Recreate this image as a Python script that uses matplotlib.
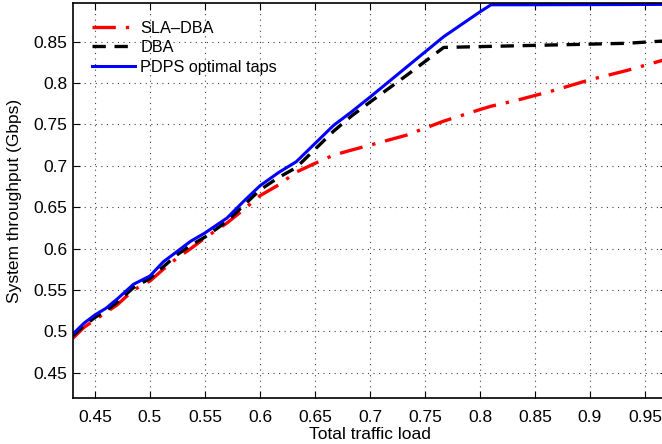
import matplotlib
matplotlib.use("Agg")
import matplotlib.pyplot as plt

plt.rcParams['font.family'] = ['Liberation Sans', 'DejaVu Sans']

# Offered load (shared x grid)
load = [0.43, 0.44, 0.45, 0.46, 0.47, 0.485, 0.50, 0.512, 0.525, 0.537,
        0.55, 0.57, 0.585, 0.60, 0.617, 0.633, 0.65, 0.667, 0.683, 0.70,
        0.733, 0.767, 0.80, 0.81, 0.833, 0.867, 0.90, 0.933, 0.97]

sla_dba = [0.492, 0.505, 0.514, 0.523, 0.532, 0.550, 0.561, 0.575, 0.589, 0.600,
           0.613, 0.631, 0.647, 0.664, 0.677, 0.6925, 0.703, 0.713, 0.719, 0.725,
           0.737, 0.754, 0.768, 0.772, 0.779, 0.791, 0.804, 0.815, 0.829]

dba = [0.495, 0.507, 0.517, 0.525, 0.535, 0.553, 0.564, 0.578, 0.593, 0.604,
       0.614, 0.633, 0.652, 0.671, 0.686, 0.698, 0.720, 0.742, 0.760, 0.777,
       0.809, 0.843, 0.844, 0.8443, 0.845, 0.846, 0.847, 0.848, 0.851]

pdps = [0.497, 0.510, 0.520, 0.528, 0.539, 0.557, 0.567, 0.584, 0.597, 0.609,
        0.619, 0.637, 0.657, 0.676, 0.692, 0.705, 0.727, 0.749, 0.765, 0.783,
        0.819, 0.856, 0.886, 0.8945, 0.8945, 0.8946, 0.8947, 0.8948, 0.895]

xticks = [0.45, 0.5, 0.55, 0.6, 0.65, 0.7, 0.75, 0.8, 0.85, 0.9, 0.95]
yticks = [0.45, 0.5, 0.55, 0.6, 0.65, 0.7, 0.75, 0.8, 0.85]

fig = plt.figure(figsize=(6.62, 4.44), dpi=100)
ax = fig.add_axes([73 / 662, 46.3 / 444, 594 / 662, 394.4 / 444])

ax.plot(load, sla_dba, color='#ff0000', lw=2.4, dashes=(7, 3, 1, 3),
        label='SLA\u2013DBA')
ax.plot(load, dba, color='black', lw=2.4, dashes=(4, 2.6), label='DBA')
ax.plot(load, pdps, color='#0000ff', lw=2.2, label='PDPS optimal taps')

ax.set_xlim(0.43, 0.97)
ax.set_ylim(0.42, 0.8963)
ax.set_xticks(xticks)
ax.set_yticks(yticks)
ax.set_xticklabels([f'{v:g}' for v in xticks])
ax.set_yticklabels([f'{v:g}' for v in yticks])

ax.grid(True, linestyle=(0, (1, 4)), color='#444444', linewidth=0.8)
ax.tick_params(direction='in', length=5, width=0.8, top=True, right=True,
               labelsize=12.5)
ax.tick_params(axis='y', pad=4)
ax.tick_params(axis='x', pad=9)
for s in ax.spines.values():
    s.set_linewidth(1.2)

ax.set_xlabel('Total traffic load', fontsize=12.5, labelpad=1)
ax.set_ylabel('System throughput (Gbps)', fontsize=12.5, labelpad=8)

leg = ax.legend(loc='upper left', frameon=False, fontsize=11.7,
                handlelength=2.7, handletextpad=0.3, labelspacing=0.28,
                borderaxespad=0.3, bbox_to_anchor=(0.012, 0.985))

fig.savefig('out.png', dpi=100)
